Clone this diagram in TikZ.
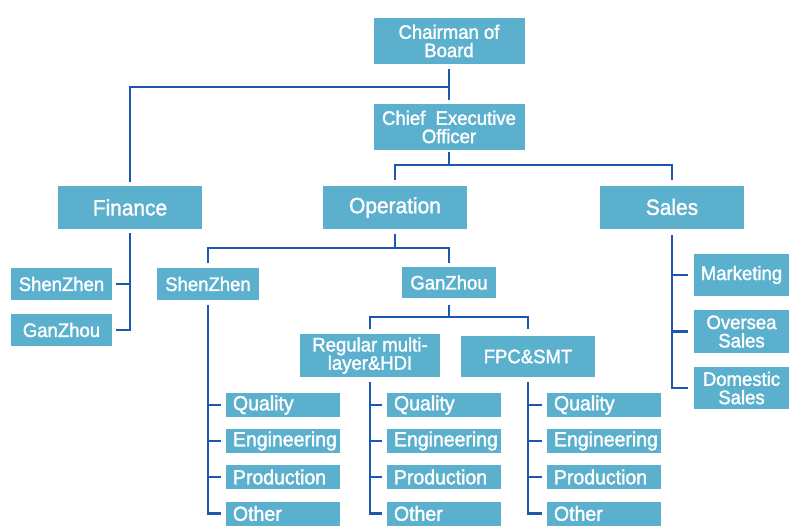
\documentclass[tikz,border=0pt]{standalone}
\usepackage{fontspec}
\setmainfont{Liberation Sans}[FakeStretch=0.95, FakeBold=1.6]
\usetikzlibrary{calc}
\definecolor{boxfill}{HTML}{5BB0CE}
\definecolor{linecol}{HTML}{1C58AE}
\tikzset{
  box/.style={fill=boxfill, text=white, inner sep=0pt, align=center,
    font=\fontsize{19.5}{18.3}\selectfont},
  bigbox/.style={box, font=\fontsize{22}{22}\selectfont, minimum width=144pt, minimum height=43pt},
  colbox/.style={fill=boxfill, text=white, inner xsep=7pt, inner ysep=0pt,
    text width=100pt, align=left, minimum height=24pt,
    font=\fontsize{20.5}{20.5}\selectfont},
  conn/.style={draw=linecol, line width=2.6pt, line cap=rect},
}
\begin{document}
\begin{tikzpicture}[x=1pt,y=-1pt]
\useasboundingbox[fill=white] (0,0) rectangle (800,532);

% top
\node[box, minimum width=151pt, minimum height=46pt] (chair) at (449,41) {Chairman of\\Board};
\node[box, minimum width=151pt, minimum height=46pt] (ceo) at (449,127) {Chief~ Executive\\Officer};

% second level
\node[bigbox] (fin) at (130,207.5) {Finance};
\node[bigbox] (op) at (395,207.5) {Operation};
\node[bigbox] (sales) at (672,207) {Sales};

% finance subs
\node[box, minimum width=101pt, minimum height=32pt] (fsz) at (61.5,284) {ShenZhen};
\node[box, minimum width=101pt, minimum height=32pt] (fgz) at (61.5,330) {GanZhou};

% operation subs
\node[box, minimum width=102pt, minimum height=32pt] (osz) at (208,284) {ShenZhen};
\node[box, minimum width=94pt, minimum height=31pt] (ogz) at (449,282.5) {GanZhou};

\node[box, minimum width=140pt, minimum height=43pt] (reg) at (370,355.5) {Regular multi-\\layer\&HDI};
\node[box, minimum width=134pt, minimum height=41pt] (fpc) at (528,356.5) {FPC\&SMT};

% sales subs
\node[box, minimum width=95pt, minimum height=42pt] (mkt) at (741.5,275) {Marketing};
\node[box, minimum width=95pt, minimum height=43pt] (ovs) at (741.5,331.5) {Oversea\\Sales};
\node[box, minimum width=95pt, minimum height=42pt] (dom) at (741.5,388) {Domestic\\Sales};

% columns
\foreach \c/\x in {a/283, b/444, c/604}{
  \node[colbox] (\c1) at (\x,405) {Quality};
  \node[colbox] (\c2) at (\x,441) {Engineering};
  \node[colbox] (\c3) at (\x,477) {Production};
  \node[colbox] (\c4) at (\x,513.5) {Other};
}

% connectors: chairman
\coordinate (j1) at (449,87);
\draw[conn] ([yshift=-6pt]chair.south) -- ([yshift=5pt]ceo.north);
\draw[conn] (j1) -| ([yshift=5pt]fin.north);

% ceo
\coordinate (j2) at (449,165);
\draw[conn] ([yshift=-3pt]ceo.south) -- (j2);
\draw[conn] ([yshift=7pt]op.north) |- (j2) -| ([yshift=7pt]sales.north);

% finance
\coordinate (fb1) at (130,284);
\coordinate (fb2) at (130,330);
\draw[conn] ([yshift=-5pt]fin.south) -- (fb2) -- ([xshift=5pt]fgz.east);
\draw[conn] (fb1) -- ([xshift=5pt]fsz.east);

% operation
\coordinate (j3) at (395,248);
\draw[conn] ([yshift=-6pt]op.south) -- (j3);
\draw[conn] ([yshift=6pt]osz.north) |- (j3) -| ([yshift=5pt]ogz.north);

% ganzhou
\coordinate (j4) at (449,317);
\draw[conn] ([yshift=-8pt]ogz.south) -- (j4);
\draw[conn] ([yshift=6pt]reg.north) |- (j4) -| ([yshift=8pt]fpc.north);

% sales
\coordinate (s3) at (672,388);
\draw[conn] ([yshift=-8pt]sales.south) -- (s3) -- ([xshift=-7pt]dom.west);
\draw[conn] (672,275) -- ([xshift=-7pt]mkt.west);
\draw[conn] (672,331.5) -- ([xshift=-7pt]ovs.west);

% columns
\draw[conn] ([yshift=-6pt]osz.south) |- ([xshift=-6pt]a4.west);
\foreach \i in {1,2,3}{ \draw[conn] (a\i.west -| osz.south) -- ([xshift=-6pt]a\i.west); }
\draw[conn] ([yshift=-6pt]reg.south) |- ([xshift=-6pt]b4.west);
\foreach \i in {1,2,3}{ \draw[conn] (b\i.west -| reg.south) -- ([xshift=-6pt]b\i.west); }
\draw[conn] ([yshift=-6pt]fpc.south) |- ([xshift=-6pt]c4.west);
\foreach \i in {1,2,3}{ \draw[conn] (c\i.west -| fpc.south) -- ([xshift=-6pt]c\i.west); }
\end{tikzpicture}
\end{document}
